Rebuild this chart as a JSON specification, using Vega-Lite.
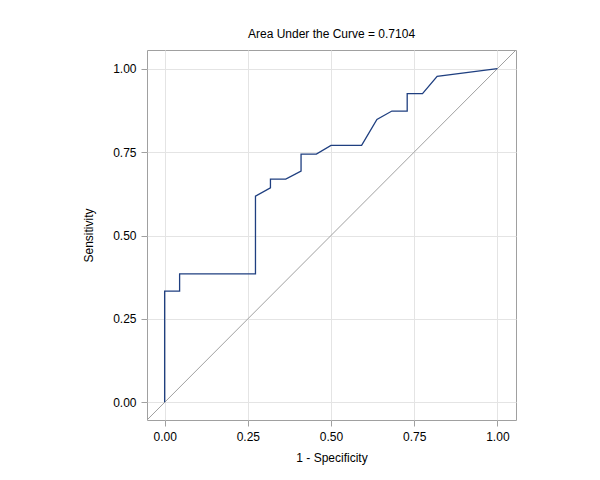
{
  "$schema": "https://vega.github.io/schema/vega-lite/v6.json",
  "width": 369,
  "height": 370,
  "autosize": "none",
  "padding": {"left": 147, "top": 50, "right": 84, "bottom": 60},
  "background": "white",
  "title": {"text": "Area Under the Curve = 0.7104", "font": "Liberation Sans", "fontSize": 12, "fontWeight": "normal", "color": "#000000", "offset": 9, "anchor": "middle"},
  "datasets": {
    "roc": [
      {"i": 0, "fpr": 0, "tpr": 0},
      {"i": 1, "fpr": 0, "tpr": 0.333},
      {"i": 2, "fpr": 0.045, "tpr": 0.333},
      {"i": 3, "fpr": 0.045, "tpr": 0.385},
      {"i": 4, "fpr": 0.273, "tpr": 0.385},
      {"i": 5, "fpr": 0.273, "tpr": 0.618},
      {"i": 6, "fpr": 0.318, "tpr": 0.643},
      {"i": 7, "fpr": 0.318, "tpr": 0.669},
      {"i": 8, "fpr": 0.364, "tpr": 0.669},
      {"i": 9, "fpr": 0.41, "tpr": 0.693},
      {"i": 10, "fpr": 0.41, "tpr": 0.744},
      {"i": 11, "fpr": 0.456, "tpr": 0.744},
      {"i": 12, "fpr": 0.5, "tpr": 0.77},
      {"i": 13, "fpr": 0.592, "tpr": 0.77},
      {"i": 14, "fpr": 0.638, "tpr": 0.848},
      {"i": 15, "fpr": 0.683, "tpr": 0.873},
      {"i": 16, "fpr": 0.729, "tpr": 0.873},
      {"i": 17, "fpr": 0.729, "tpr": 0.925},
      {"i": 18, "fpr": 0.775, "tpr": 0.925},
      {"i": 19, "fpr": 0.819, "tpr": 0.977},
      {"i": 20, "fpr": 1, "tpr": 1}
    ],
    "diag": [
      {"i": 0, "fpr": -0.053, "tpr": -0.053},
      {"i": 1, "fpr": 1.056, "tpr": 1.056}
    ]
  },
  "config": {
    "view": {"stroke": "#a0a0a0", "strokeWidth": 1},
    "axis": {
      "labelFont": "Liberation Sans",
      "labelFontSize": 12,
      "labelColor": "#000000",
      "titleFont": "Liberation Sans",
      "titleFontSize": 12,
      "titleFontWeight": "normal",
      "titleColor": "#000000",
      "domain": false,
      "tickColor": "#a0a0a0",
      "tickSize": 6,
      "gridColor": "#e4e4e4",
      "gridWidth": 1,
      "labelPadding": 5
    }
  },
  "layer": [
    {
      "data": {"name": "diag"},
      "mark": {"type": "line", "color": "#a0a0a0", "strokeWidth": 1, "clip": true},
      "encoding": {
        "x": {"field": "fpr", "type": "quantitative", "scale": {"domain": [-0.053, 1.056], "nice": false, "zero": false},
              "axis": {"title": "1 - Specificity", "values": [0, 0.25, 0.5, 0.75, 1], "format": ".2f", "titlePadding": 10}},
        "y": {"field": "tpr", "type": "quantitative", "scale": {"domain": [-0.053, 1.056], "nice": false, "zero": false},
              "axis": {"title": "Sensitivity", "values": [0, 0.25, 0.5, 0.75, 1], "format": ".2f", "titlePadding": 17}},
        "order": {"field": "i", "type": "quantitative"}
      }
    },
    {
      "data": {"name": "roc"},
      "mark": {"type": "line", "color": "#1f3f80", "strokeWidth": 1.3},
      "encoding": {
        "x": {"field": "fpr", "type": "quantitative"},
        "y": {"field": "tpr", "type": "quantitative"},
        "order": {"field": "i", "type": "quantitative"}
      }
    }
  ]
}
